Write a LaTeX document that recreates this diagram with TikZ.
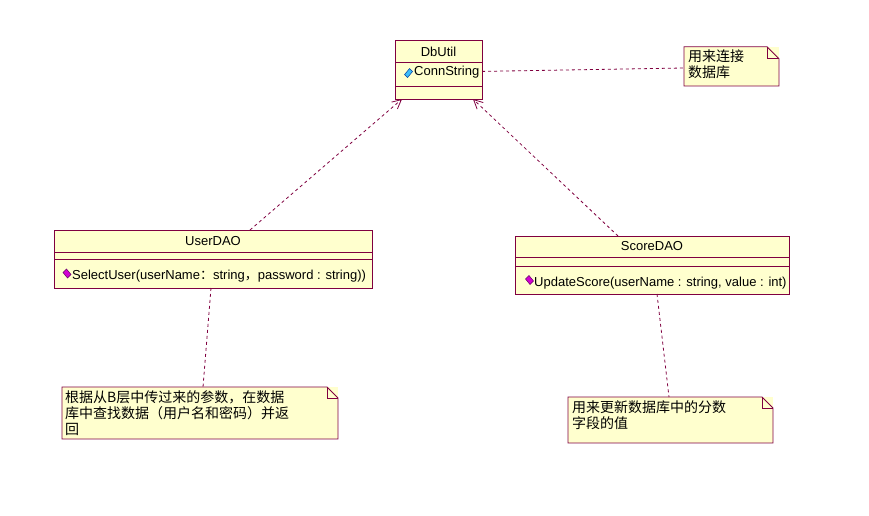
\documentclass[tikz,border=0pt]{standalone}
\usepackage{fontspec}
\setmainfont{Liberation Sans}
\newfontfamily\cjk{Noto Sans CJK SC}
\usetikzlibrary{positioning,arrows.meta}
\definecolor{umlline}{RGB}{128,0,64}
\definecolor{umlfill}{RGB}{255,255,206}
\definecolor{attrfill}{RGB}{60,190,250}
\definecolor{attrdraw}{RGB}{0,60,160}
\definecolor{opfill}{RGB}{210,0,210}
\definecolor{opdraw}{RGB}{100,0,100}

\begin{document}
\begin{tikzpicture}[x=1pt, y=-1pt,
    comp/.style={draw=umlline, fill=umlfill, line width=0.8pt, inner sep=0pt, outer sep=0pt,
                 font={\fontsize{13pt}{15pt}\selectfont}},
    member/.style={inner sep=0pt, anchor=west, font={\fontsize{13pt}{15pt}\selectfont}},
    notebg/.style={fill=umlfill, inner sep=0pt, outer sep=0pt},
    notetxt/.style={inner sep=0pt, align=left, font={\cjk\fontsize{14pt}{16pt}\selectfont}},
    noteline/.style={draw=umlline, line width=0.8pt, line join=miter},
    dep/.style={draw=umlline, line width=0.8pt, dash pattern=on 3pt off 3pt},
    arr/.style={dep, -{Straight Barb[length=9pt,width=9pt]}},
    attricon/.style={fill=attrfill, draw=attrdraw, line width=0.5pt},
    opicon/.style={fill=opfill, draw=opdraw, line width=0.5pt}
]
\path[fill=white] (0,0) rectangle (869,516);
\useasboundingbox (0,0) rectangle (869,516);

\node[comp, minimum width=87, minimum height=22.7] (dbname) at (438.5,51.4) {DbUtil};
\node[comp, minimum width=87, minimum height=23.3, below=0pt of dbname] (dbattr) {};
\node[comp, minimum width=87, minimum height=13, below=0pt of dbattr] (dbops) {};
\node[member, right=19pt of dbattr.west, yshift=2pt] (dbconn) {ConnString};
\filldraw[attricon] ([xshift=13.5pt,yshift=1.3pt]dbattr.west)
    +(-4,1.5) -- +(1,-4.5) -- +(4,-1.5) -- +(-1,4.5) -- cycle;

\node[comp, minimum width=318, minimum height=22] (uname) at (213,241) {UserDAO};
\node[comp, minimum width=318, minimum height=7, below=0pt of uname] (uattr) {};
\node[comp, minimum width=318, minimum height=29, below=0pt of uattr] (uops) {};
\node[member, right=18pt of uops.west, yshift=-3pt] (uselect)
    {SelectUser(userName{\cjk ：}string{\cjk ，}password : string))};
\filldraw[opicon] ([xshift=13pt]uops.west)
    +(-4,-1) -- +(-0.5,-4.5) -- +(4,1) -- +(0.5,4.5) -- cycle;

\node[comp, minimum width=274, minimum height=21] (sname) at (652,246.5) {ScoreDAO};
\node[comp, minimum width=274, minimum height=9, below=0pt of sname] (sattr) {};
\node[comp, minimum width=274, minimum height=28, below=0pt of sattr] (sops) {};
\node[member, right=19pt of sops.west, yshift=-3pt] (supdate)
    {UpdateScore(userName : string, value : int)};
\filldraw[opicon] ([xshift=14.5pt]sops.west)
    +(-4,-1) -- +(-0.5,-4.5) -- +(4,1) -- +(0.5,4.5) -- cycle;

\node[notebg, minimum width=95, minimum height=39.3] (dbnote) at (731.5,66.4) {};
\draw[noteline] (dbnote.north west) -- ([xshift=-12pt]dbnote.north east)
    -- ([yshift=-12pt]dbnote.north east) -- (dbnote.south east) -- (dbnote.south west) -- cycle;
\draw[noteline] ([xshift=-12pt]dbnote.north east) |- ([yshift=-12pt]dbnote.north east);
\node[notetxt, below right=3pt and 4pt of dbnote.north west] (dbnotetxt)
    {用来连接\\数据库};

\node[notebg, minimum width=276, minimum height=52] (unote) at (200,413) {};
\draw[noteline] (unote.north west) -- ([xshift=-11pt]unote.north east)
    -- ([yshift=-11pt]unote.north east) -- (unote.south east) -- (unote.south west) -- cycle;
\draw[noteline] ([xshift=-11pt]unote.north east) |- ([yshift=-11pt]unote.north east);
\node[notetxt, below right=3pt and 3pt of unote.north west] (unotetxt)
    {根据从B层中传过来的参数，在数据\\库中查找数据（用户名和密码）并返\\回};

\node[notebg, minimum width=205, minimum height=46] (snote) at (670.5,420) {};
\draw[noteline] (snote.north west) -- ([xshift=-11pt]snote.north east)
    -- ([yshift=-11pt]snote.north east) -- (snote.south east) -- (snote.south west) -- cycle;
\draw[noteline] ([xshift=-11pt]snote.north east) |- ([yshift=-11pt]snote.north east);
\node[notetxt, below right=3pt and 4pt of snote.north west] (snotetxt)
    {用来更新数据库中的分数\\字段的值};

\draw[dep] ([yshift=3pt]dbattr.east) -- ([yshift=-1.6pt]dbnote.west);
\draw[arr] ([xshift=37pt]uname.north) -- ([xshift=-36.5pt]dbops.south);
\draw[arr] ([xshift=-34pt]sname.north) -- ([xshift=34.5pt]dbops.south);
\draw[dep] ([xshift=-2pt]uops.south) -- ([xshift=3pt]unote.north);
\draw[dep] ([xshift=5pt]sops.south) -- ([xshift=-1.5pt]snote.north);
\end{tikzpicture}
\end{document}
